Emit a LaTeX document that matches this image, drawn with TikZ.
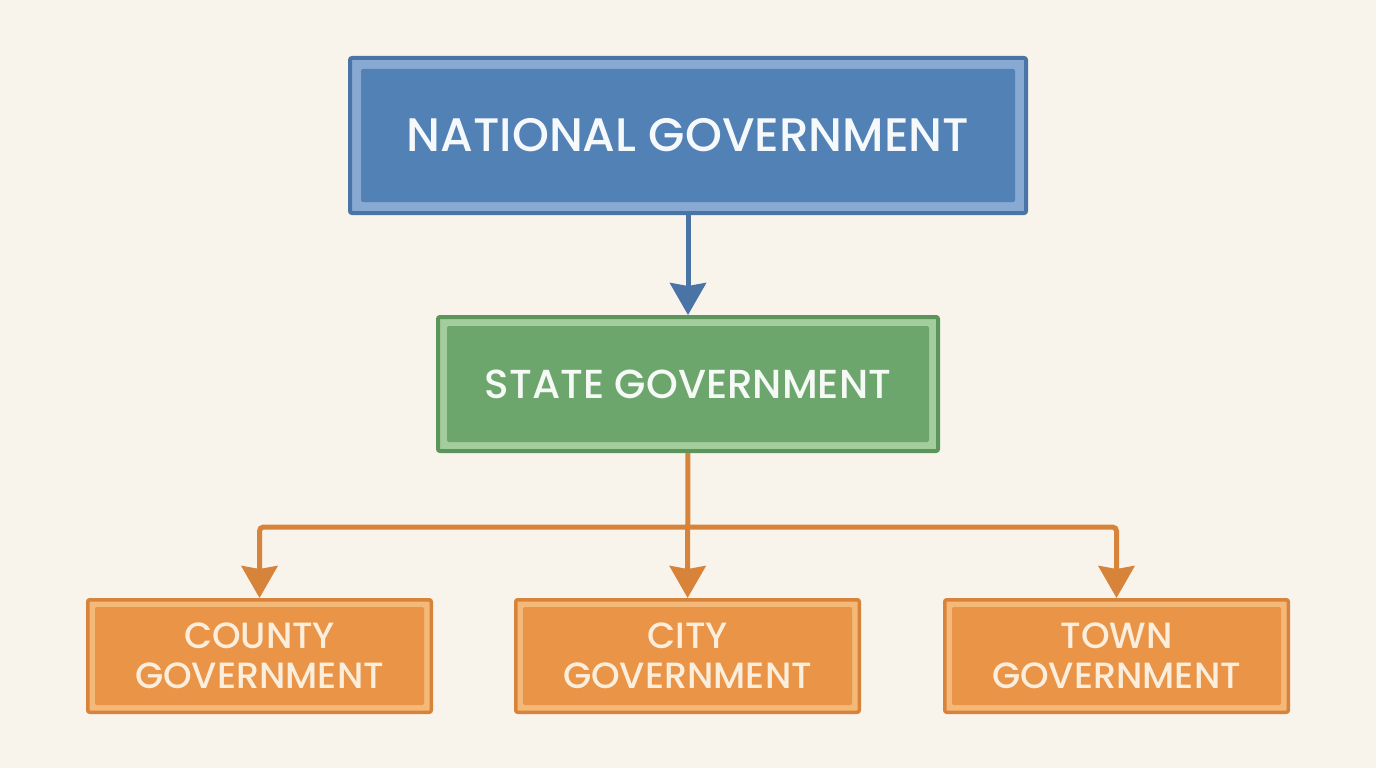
\documentclass[tikz,border=0pt]{standalone}
\usepackage{fontspec}
\setmainfont{Poppins}[UprightFont=* Medium]
\usetikzlibrary{arrows.meta}

\definecolor{paper}{HTML}{F8F4EC}
\definecolor{natfill}{HTML}{5281B5}
\definecolor{natband}{HTML}{88AAD2}
\definecolor{natedge}{HTML}{4A73A6}
\definecolor{stafill}{HTML}{6DA66D}
\definecolor{staband}{HTML}{A4CD9D}
\definecolor{staedge}{HTML}{5C955C}
\definecolor{locfill}{HTML}{E99447}
\definecolor{locband}{HTML}{F4B878}
\definecolor{locedge}{HTML}{D8833A}
\definecolor{loctext}{HTML}{FCEEDC}

\tikzset{
  % #1 fill, #2 band, #3 edge width, #4 inset of the fill
  govbox/.style n args={4}{rectangle, rounded corners=2pt, align=center,
    inner sep=0pt, fill=#2, line width=#3, outer sep=0.5*#3,
    path picture={\fill[#1]
      ([shift={(#4,#4)}]path picture bounding box.south west) rectangle
      ([shift={(-#4,-#4)}]path picture bounding box.north east);}},
  natbox/.style={govbox={natfill}{natband}{4pt}{11pt}, draw=natedge,
    minimum width=676pt, minimum height=155pt,
    text=white!95!natfill, font=\fontsize{47}{52}\selectfont},
  stabox/.style={govbox={stafill}{staband}{4pt}{9pt}, draw=staedge,
    minimum width=500pt, minimum height=134pt,
    text=white!94!stafill, font=\fontsize{40.5}{46}\selectfont},
  locbox/.style={govbox={locfill}{locband}{3.5pt}{7.25pt}, draw=locedge,
    minimum width=343.5pt, minimum height=112.5pt,
    text=loctext, font=\fontsize{36.5}{40}\selectfont},
  natline/.style={draw=natedge, line width=5pt,
    -{Stealth[length=32pt,width=36pt,inset=3pt]}},
  locline/.style={draw=locedge, line width=5pt,
    -{Stealth[length=32pt,width=36pt,inset=3pt]}},
}

\begin{document}
\begin{tikzpicture}[x=1pt,y=-1pt]
  \fill[paper] (0,0) rectangle (1376,768);
  \useasboundingbox (0,0) rectangle (1376,768);

  \node[natbox] (national) at (688,135.5) {NATIONAL GOVERNMENT};
  \node[stabox] (state) at (688,384) {STATE GOVERNMENT};

  \node[locbox] (county) at (259.5,656) {COUNTY\\GOVERNMENT};
  \node[locbox] (city) at (687.5,656) {CITY\\GOVERNMENT};
  \node[locbox] (town) at (1116.5,656) {TOWN\\GOVERNMENT};

  \coordinate (split) at (688,527);

  \draw[natline] (national) -- (state);
  \draw[locline] (state) -- (city);
  \draw[locline, rounded corners=4pt] (split) -| (county);
  \draw[locline, rounded corners=4pt] (split) -| (town);
\end{tikzpicture}
\end{document}
